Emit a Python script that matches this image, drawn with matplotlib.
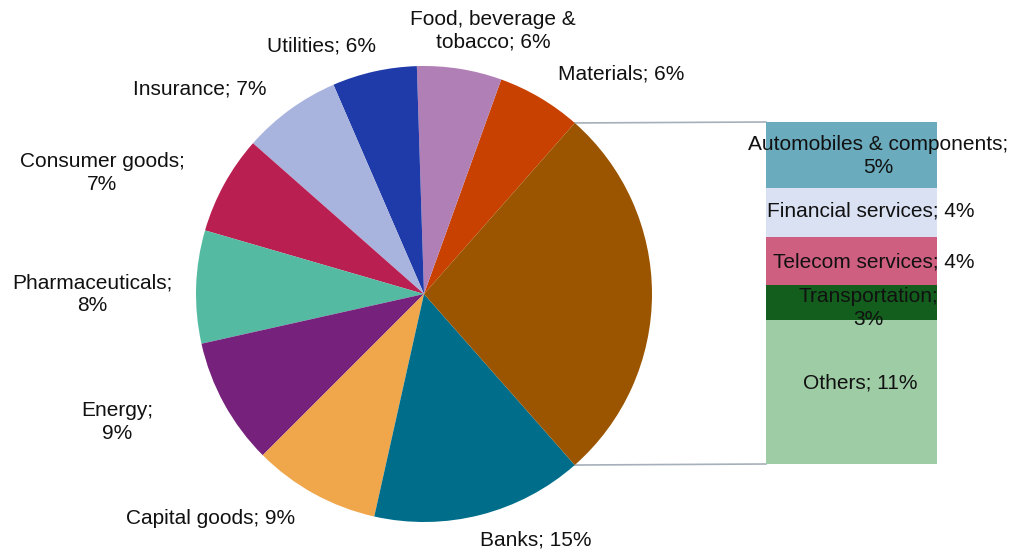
import matplotlib
matplotlib.use("Agg")
import matplotlib.pyplot as plt
import numpy as np

plt.rcParams['font.family'] = ['Liberation Sans', 'DejaVu Sans']

# ---- data ----
pie_labels = ["Materials", "Food, beverage &\ntobacco", "Utilities", "Insurance",
              "Consumer goods;\n", "Pharmaceuticals;\n", "Energy;\n",
              "Capital goods", "Banks", "Other"]
pie_values = [6, 6, 6, 7, 7, 8, 9, 9, 15, 27]
pie_colors = ["#C94100", "#B07FB5", "#1F3BAA", "#A9B4DE", "#B91F50",
              "#54BBA2", "#76217C", "#F0A74C", "#006E8A", "#9B5500"]

bar_labels = ["Others", "Transportation", "Telecom services",
              "Financial services", "Automobiles & components"]
bar_values = [11.4, 2.7, 3.8, 3.9, 5.2]
bar_colors = ["#9ECDA5", "#135E1D", "#CF5F80", "#D9E1F3", "#6AABBD"]

W, H = 1013, 552
fig = plt.figure(figsize=(W / 100, H / 100), dpi=100)

# pie axes in pixel-like coordinates
ax = fig.add_axes([0, 0, 1, 1])
cx, cy, r = 424, H - 294, 228
other_share = pie_values[-1] / sum(pie_values) * 360
start = other_share / 2
wedges, _ = ax.pie(pie_values, colors=pie_colors, startangle=start,
                   center=(cx, cy), radius=r, counterclock=True,
                   wedgeprops=dict(linewidth=0), frame=True)
ax.set_xlim(0, W)
ax.set_ylim(0, H)
ax.set_aspect('equal')
ax.axis('off')

# bar axes
bx0, bx1, by0, by1 = 766, 937, 122, 464
bax = fig.add_axes([bx0 / W, (H - by1) / H, (bx1 - bx0) / W, (by1 - by0) / H])
bottom = 0
for lab, v, c in zip(bar_labels, bar_values, bar_colors):
    bax.bar(0.5, v, width=1.0, bottom=bottom, color=c, linewidth=0)
    bottom += v
bax.set_xlim(0, 1)
bax.set_ylim(0, sum(bar_values))
bax.axis('off')

# connector lines
ow = wedges[-1]
for ang, yb in [(ow.theta2, by0), (ow.theta1, by1)]:
    px = cx + r * np.cos(np.radians(ang))
    py = cy + r * np.sin(np.radians(ang))
    ax.plot([px, bx0], [py, H - yb], color="#A6B0BA", lw=1.2, zorder=0)

# labels
pie_text = ["Materials; 6%", "Food, beverage &\ntobacco; 6%", "Utilities; 6%",
            "Insurance; 7%", "Consumer goods;\n7%", "Pharmaceuticals;\n8%",
            "Energy;\n9%", "Capital goods; 9%", "Banks; 15%"]
pie_text_pos = [(621, 74), (493, 31), (321, 46), (200, 89), (102, 173),
                (92, 294), (117, 422), (211, 518), (536, 540)]
bar_text = ["Others; 11%", "Transportation;\n3%", "Telecom services; 4%",
            "Financial services; 4%", "Automobiles & components;\n5%"]
bar_text_pos = [(860, 383), (868, 308), (874, 262), (871, 211), (878, 156)]
for t, (x, y) in zip(pie_text + bar_text, pie_text_pos + bar_text_pos):
    fig.text(x / W, 1 - y / H, t, ha='center', va='center', fontsize=15,
             linespacing=1.25, color='#111111', zorder=5)

fig.savefig("out.png", dpi=100)
